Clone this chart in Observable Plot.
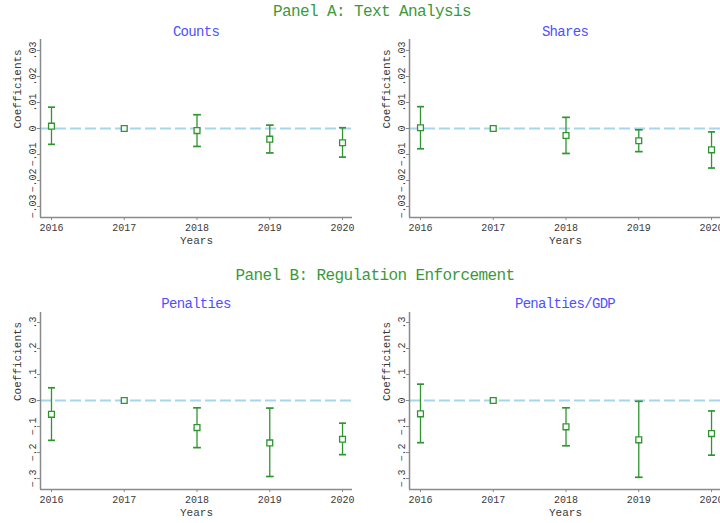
<!DOCTYPE html>
<html><head><meta charset="utf-8">
<script src="https://cdn.jsdelivr.net/npm/d3@7"></script>
<script src="https://cdn.jsdelivr.net/npm/@observablehq/plot@0.6"></script>
<style>
body{margin:0;background:#fff;}
#wrap{position:relative;width:720px;height:523px;overflow:hidden;background:#fff;font-family:"Liberation Mono",monospace;}
.t{position:absolute;white-space:nowrap;transform:translate(-50%,-50%);}
.main{color:#3a9a3a;font-size:16px;letter-spacing:-0.6px;}
.sub{color:#4f4fff;font-size:14px;letter-spacing:-0.7px;}
.p{position:absolute;}
</style></head>
<body><div id="wrap"></div>
<script>
const years = [2016, 2017, 2018, 2019, 2020];

const countsCoef = [0.0009, 0, -0.0008, -0.0041, -0.0055];
const countsLo   = [-0.0061, null, -0.0069, -0.0094, -0.0110];
const countsHi   = [0.0082, null, 0.0053, 0.0013, 0.0003];

const sharesCoef = [0.0003, 0, -0.0027, -0.0047, -0.0082];
const sharesLo   = [-0.0078, null, -0.0096, -0.0089, -0.0152];
const sharesHi   = [0.0084, null, 0.0043, -0.0005, -0.0013];

const penCoef = [-0.053, 0, -0.104, -0.163, -0.149];
const penLo   = [-0.153, null, -0.181, -0.292, -0.208];
const penHi   = [0.049, null, -0.028, -0.029, -0.087];

const gdpCoef = [-0.051, 0, -0.101, -0.151, -0.127];
const gdpLo   = [-0.162, null, -0.174, -0.295, -0.210];
const gdpHi   = [0.063, null, -0.028, -0.003, -0.040];

const yTicksA = [-0.03, -0.02, -0.01, 0, 0.01, 0.02, 0.03];
const yTicksB = [-0.3, -0.2, -0.1, 0, 0.1, 0.2, 0.3];

const panelTitles = ["Panel A: Text Analysis", "Panel B: Regulation Enforcement"];
const subTitles = ["Counts", "Shares", "Penalties", "Penalties/GDP"];

const green = "#2f952f";
const axisGray = "#8a8a8a";
const textGray = "#3a3a3a";
const xDomain = [2015.849, 2020.137];

function stataFmt(dec) {
  return d => d === 0 ? "0" : d3.format("." + dec + "f")(d).replace("0.", ".");
}

function panel(coef, lo, hi, yDomain, yTicks, fmt, height, mt, mb) {
  const pts = years.map((y, i) => ({year: y, coef: coef[i]}));
  const ci = years.map((y, i) => ({year: y, lo: lo[i], hi: hi[i]})).filter(d => d.lo != null);
  return Plot.plot({
    width: 369, height, marginLeft: 40, marginRight: 17, marginTop: mt, marginBottom: mb,
    x: {domain: xDomain},
    y: {domain: yDomain},
    style: {fontFamily: "Liberation Mono, monospace", fontSize: "10px", background: "transparent", overflow: "visible"},
    marks: [
      Plot.ruleY([0], {stroke: "#a6d6ef", strokeWidth: 2, strokeDasharray: "11,4"}),
      Plot.link(ci, {x1: "year", x2: "year", y1: "lo", y2: "hi", stroke: green, strokeWidth: 1.3, markerStart: "tick", markerEnd: "tick"}),
      Plot.dot(pts, {x: "year", y: "coef", symbol: "square", r: 3.3, stroke: green, fill: "white", strokeWidth: 1.3}),
      Plot.axisX({ticks: years, tickFormat: d => String(d), tickSize: 3, tickPadding: 3, label: null, stroke: axisGray, fill: textGray, fontSize: 10, style: {letterSpacing: "-0.7px"}}),
      Plot.axisY({ticks: yTicks, tickFormat: fmt, tickSize: 3, tickPadding: 2, tickRotate: -90, label: null, stroke: axisGray, fill: textGray, fontSize: 10}),
      Plot.ruleX([xDomain[0]], {stroke: axisGray, strokeWidth: 1.5}),
      Plot.ruleY([yDomain[0]], {stroke: axisGray, strokeWidth: 1.5}),
      Plot.text(["Coefficients"], {text: d => d, frameAnchor: "left", dx: -23, rotate: -90, fill: textGray, fontSize: 11}),
      Plot.text(["Years"], {text: d => d, frameAnchor: "bottom", dy: 26, fill: textGray, fontSize: 11})
    ]
  });
}

const wrap = document.getElementById("wrap");
function place(el, left, top) {
  el.classList.add("p");
  el.style.left = left + "px";
  el.style.top = top + "px";
  wrap.appendChild(el);
}
function label(text, cls, x, y) {
  const d = document.createElement("div");
  d.className = "t " + cls;
  d.textContent = text;
  d.style.left = x + "px";
  d.style.top = y + "px";
  wrap.appendChild(d);
}

const yDomA = [-0.03423, 0.03423];
const yDomB = [-0.342, 0.3385];

place(panel(countsCoef, countsLo, countsHi, yDomA, yTicksA, stataFmt(2), 228, 15, 35), 0, 24);
place(panel(sharesCoef, sharesLo, sharesHi, yDomA, yTicksA, stataFmt(2), 228, 15, 35), 369, 24);
place(panel(penCoef, penLo, penHi, yDomB, yTicksB, stataFmt(1), 227, 16, 34), 0, 296);
place(panel(gdpCoef, gdpLo, gdpHi, yDomB, yTicksB, stataFmt(1), 227, 16, 34), 369, 296);

label(panelTitles[0], "main", 372, 12);
label(panelTitles[1], "main", 375, 276);
label(subTitles[0], "sub", 196, 32);
label(subTitles[1], "sub", 565, 32);
label(subTitles[2], "sub", 196, 304);
label(subTitles[3], "sub", 565, 304);
</script></body></html>
